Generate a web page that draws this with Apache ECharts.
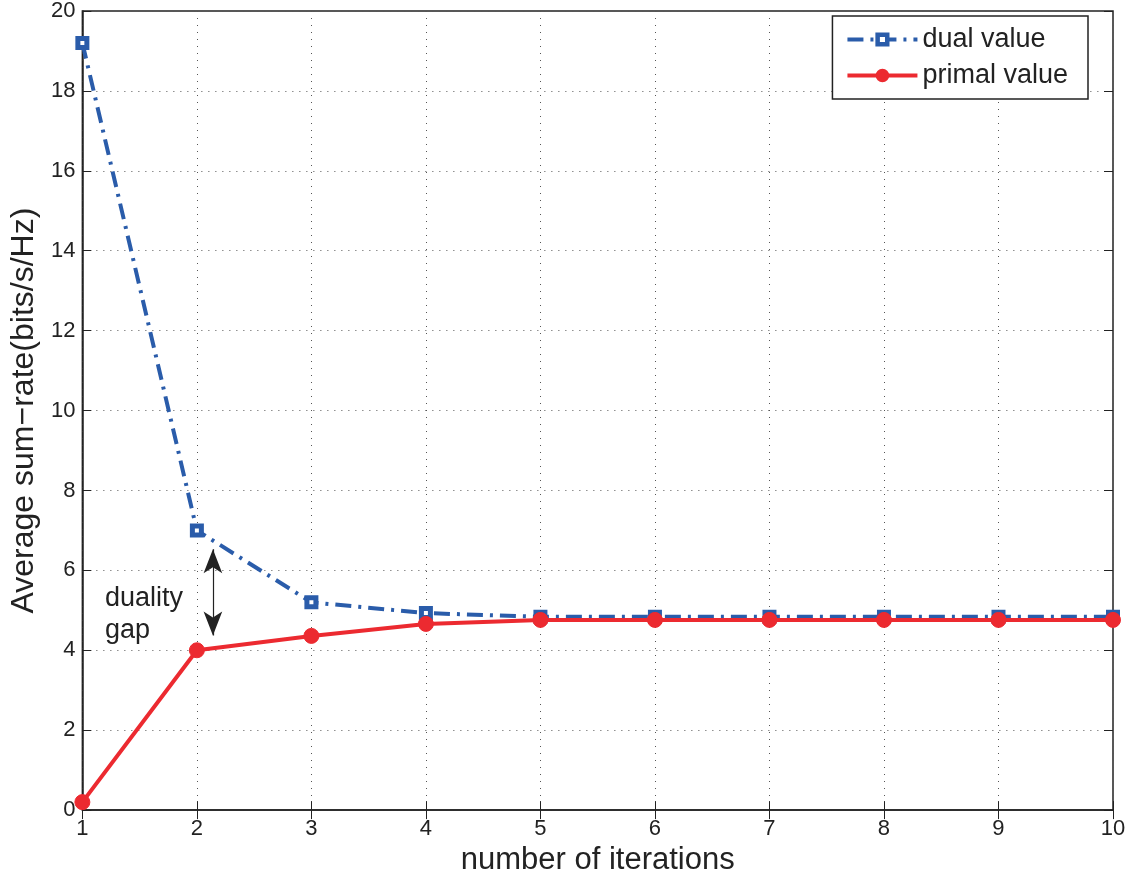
<!DOCTYPE html>
<html><head><meta charset="utf-8">
<script src="https://cdn.jsdelivr.net/npm/echarts@6/dist/echarts.min.js"></script>
<style>html,body{margin:0;padding:0;background:#fff;overflow:hidden}#c{width:1130px;height:881px}</style>
</head><body><div id="c"></div>
<script>
var iterations = [1, 2, 3, 4, 5, 6, 7, 8, 9, 10];
var dualValue = [19.2, 7.0, 5.2, 4.93, 4.84, 4.84, 4.84, 4.84, 4.84, 4.84];
var primalValue = [0.2, 4.0, 4.36, 4.66, 4.76, 4.76, 4.76, 4.76, 4.76, 4.76];
var gapArrow = [[2.14, 6.53], [2.14, 4.37]];

var font = '"Liberation Sans", Arial, Helvetica, sans-serif';
var chart = echarts.init(document.getElementById('c'));
function pairs(ys){ return iterations.map(function(x,i){return [x, ys[i]];}); }
var blue = '#2a5caa', red = '#ec2a30';
chart.setOption({
  animation: false,
  grid: {left: 82, top: 10, right: 17, bottom: 65, show: true, borderColor: '#222', borderWidth: 1.5},
  legend: {
    right: 42, top: 16, orient: 'vertical', backgroundColor: '#fff',
    borderColor: '#222', borderWidth: 1.5, padding: [10, 20, 10, 13], itemGap: 9,
    itemWidth: 70, itemHeight: 12,
    lineStyle: {width: 4},
    textStyle: {fontFamily: font, fontSize: 27, color: '#222'},
    data: [
      {name: 'dual value', itemStyle: {color: '#fff', borderColor: blue, borderWidth: 4.5}},
      {name: 'primal value', itemStyle: {color: red, borderColor: red, borderWidth: 4}}
    ]
  },
  xAxis: [{
    type: 'value', min: 1, max: 10, interval: 1,
    name: 'number of iterations', nameLocation: 'middle', nameGap: 30,
    nameTextStyle: {fontFamily: font, fontSize: 31, color: '#222'},
    axisLine: {lineStyle: {color: '#222', width: 1.5}},
    axisTick: {inside: true, length: 9, lineStyle: {color: '#222'}},
    axisLabel: {fontFamily: font, fontSize: 22, color: '#222', margin: 8},
    splitLine: {show: true, lineStyle: {type: [1, 6], color: '#555'}}
  }, {
    type: 'value', min: 1, max: 10, interval: 1, position: 'top',
    axisLine: {show: false}, axisTick: {inside: true, length: 9, lineStyle: {color: '#222'}},
    axisLabel: {show: false}, splitLine: {show: false}
  }],
  yAxis: [{
    type: 'value', min: 0, max: 20, interval: 2,
    name: 'Average sum\u2212rate(bits/s/Hz)', nameLocation: 'middle', nameGap: 36,
    nameTextStyle: {fontFamily: font, fontSize: 32, color: '#222'},
    axisLine: {show: true, lineStyle: {color: '#222', width: 1.5}},
    axisTick: {show: true, inside: true, length: 9, lineStyle: {color: '#222'}},
    axisLabel: {fontFamily: font, fontSize: 22, color: '#222', margin: 7},
    splitLine: {show: true, lineStyle: {type: [1, 6], color: '#555'}}
  }, {
    type: 'value', min: 0, max: 20, interval: 2, position: 'right',
    axisLine: {show: false}, axisTick: {show: true, inside: true, length: 9, lineStyle: {color: '#222'}},
    axisLabel: {show: false}, splitLine: {show: false}
  }],
  series: [{
    name: 'dual value', type: 'line', data: pairs(dualValue), z: 3,
    symbol: 'rect', symbolSize: 9,
    itemStyle: {color: '#fff', borderColor: blue, borderWidth: 5},
    lineStyle: {color: blue, width: 4, type: [16, 7, 3, 7]},
    markLine: {
      silent: true, symbol: ['arrow', 'arrow'], symbolSize: [14, 24],
      lineStyle: {color: '#222', width: 1.2, type: 'solid'},
      label: {show: false},
      data: [[{coord: gapArrow[0]}, {coord: gapArrow[1]}]]
    }
  }, {
    name: 'primal value', type: 'line', data: pairs(primalValue), z: 4,
    symbol: 'circle', symbolSize: 15,
    itemStyle: {color: red, borderColor: red},
    lineStyle: {color: red, width: 4}
  }],
  graphic: [{
    type: 'text', left: 105, top: 583,
    style: {text: 'duality\ngap', font: '27px ' + font, fill: '#222', lineHeight: 32}
  }]
});
</script></body></html>
